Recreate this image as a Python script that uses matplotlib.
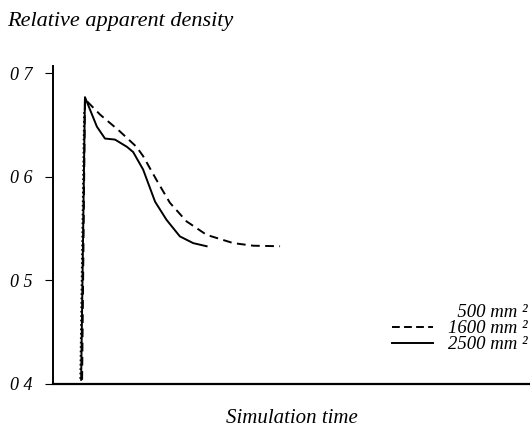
import matplotlib.pyplot as plt
from matplotlib.lines import Line2D

# simulation time (arbitrary units) and relative apparent density
t_500 = [5.7, 6.5]
d_500 = [0.405, 0.665]

t_1600 = [6.1, 6.7, 9.9, 14.0, 17.5, 18.9, 21.7, 24.5, 28.0, 32.2, 37.8, 42.0, 47.6]
d_1600 = [0.404, 0.675, 0.660, 0.644, 0.629, 0.620, 0.597, 0.575, 0.557, 0.544, 0.536, 0.5335, 0.533]

t_2500 = [5.9, 6.7, 9.2, 10.9, 13.0, 15.5, 16.8, 18.9, 21.4, 23.8, 26.6, 29.4, 32.2]
d_2500 = [0.404, 0.677, 0.6485, 0.637, 0.636, 0.629, 0.624, 0.607, 0.576, 0.5585, 0.5425, 0.536, 0.533]

yticks = [0.4, 0.5, 0.6, 0.7]
ytick_labels = ["0 4", "0 5", "0 6", "0 7"]
labels = ["\u2007500 mm \u00b2", "1600 mm \u00b2", "2500 mm \u00b2"]

plt.rcParams['font.family'] = ['Liberation Serif', 'DejaVu Serif']

fig = plt.figure(figsize=(5.3, 4.29), dpi=100)
ax = fig.add_axes([0.1, 0.105, 0.9, 0.741])

ax.plot(t_500, d_500, color='black', lw=1.2, ls=':')
ax.plot(t_1600, d_1600, color='black', lw=1.4, ls=(0, (4.5, 2.8)))
ax.plot(t_2500, d_2500, color='black', lw=1.4)

ax.set_xlim(0, 100)
ax.set_ylim(0.4, 0.707)
ax.set_yticks(yticks)
ax.set_yticklabels(ytick_labels, fontsize=13, style='italic')
ax.set_xticks([])
ax.tick_params(axis='y', length=6, width=0.8, pad=9)
for s in ['top', 'right']:
    ax.spines[s].set_visible(False)
ax.spines['left'].set_linewidth(1.4)
ax.spines['bottom'].set_linewidth(1.6)

fig.text(0.013, 0.95, "Relative apparent density", fontsize=16, style='italic',
         ha='left', va='center')
ax.set_xlabel("Simulation time", fontsize=15, style='italic', labelpad=18)

handles = [Line2D([], [], color='none', lw=0),
           Line2D([], [], color='black', lw=1.4, ls=(0, (4, 2.2))),
           Line2D([], [], color='black', lw=1.4)]
ax.legend(handles, labels, loc='lower right', bbox_to_anchor=(1.03, 0.044),
          frameon=False, prop={'style': 'italic', 'size': 13.5},
          handlelength=2.2, handletextpad=0.8, labelspacing=-0.06)

fig.savefig("out.png", dpi=100)
